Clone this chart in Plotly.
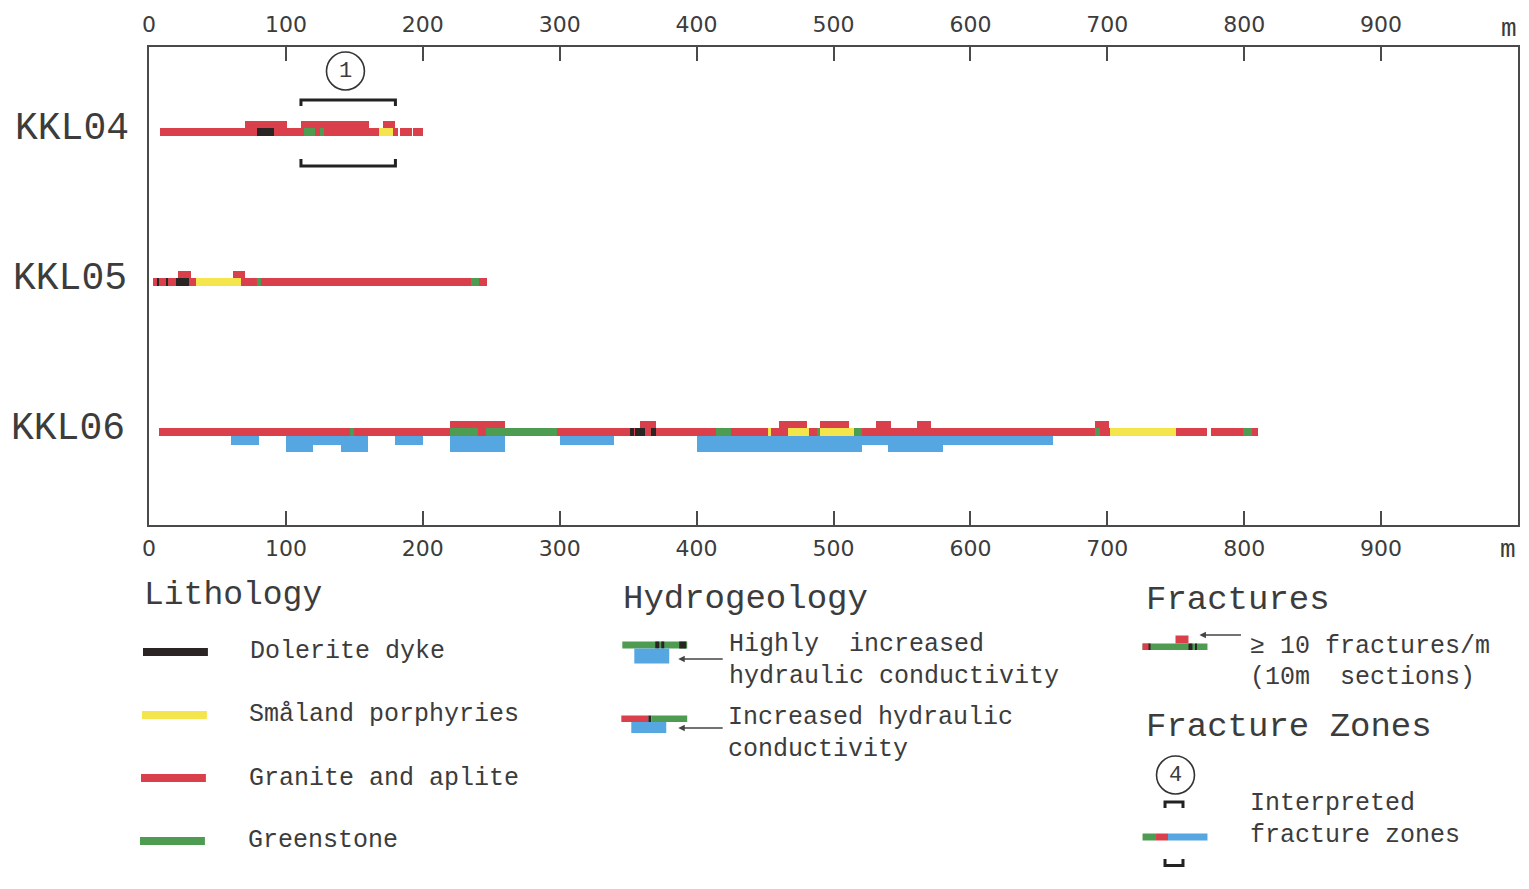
import plotly.graph_objects as go

# ---------------- data (metres along borehole) ----------------
boreholes = ["KKL04", "KKL05", "KKL06"]
depth_ticks = [0, 100, 200, 300, 400, 500, 600, 700, 800, 900]

core_KKL04 = [(8, 182), (183, 192), (193, 200)]
core_KKL05 = [(3, 247)]
core_KKL06 = [(7.5, 772.5), (775.5, 810)]

dolerite_KKL04 = [(79, 91)]
dolerite_KKL05 = [(6, 7), (13, 14), (20, 29)]
dolerite_KKL06 = [(351, 354), (355, 362), (367, 370)]

smaland_KKL04 = [(168, 178)]
smaland_KKL05 = [(34, 67)]
smaland_KKL06 = [(452, 454), (467, 482), (490, 515), (702, 750)]

greenstone_KKL04 = [(113, 121), (125, 128)]
greenstone_KKL05 = [(79, 82), (235, 241)]
greenstone_KKL06 = [(146.5, 150), (220, 240), (246, 298), (414, 425),
                    (488, 490), (515, 521), (691, 695), (799, 806)]

fractures_KKL04 = [(70, 101), (111, 161), (171, 180)]
fractures_KKL05 = [(21, 31), (61, 70)]
fractures_KKL06 = [(220, 260), (359, 370), (460, 481), (490, 511),
                   (531, 542), (561, 571), (691, 701)]

hydro_high_KKL06 = [(100, 120), (140, 160), (220, 260), (400, 521), (540, 580)]
hydro_incr_KKL06 = [(60, 80), (120, 140), (180, 200), (300, 340), (521, 540), (580, 660)]

fracture_zone_KKL04 = [(111, 180)]
fracture_zone_labels = ["1"]

# ---------------- styling ----------------
RED = "#d9404b"
YELLOW = "#f4e54c"
GREEN = "#4e9c52"
BLUE = "#56a6e2"
BLACK = "#2b2424"
TEXT = "#3c3c3c"
FRAME = "#4a4a4a"
MONO = "Liberation Mono"
SANS = "DejaVu Sans"

O = 8                      # page body margin of the html page
W, H = 1529 - 2 * O, 889 - 2 * O
PLOT_L, PLOT_R, PLOT_T, PLOT_B = 149, 1520, 47, 525   # page pixel frame
ML, MT = PLOT_L - O, PLOT_T - O
MR = W - (PLOT_R - O)
MB = H - (PLOT_B - O)
PW, PH = PLOT_R - PLOT_L, PLOT_B - PLOT_T
ROW_PX = 150.0
PX_PER_M = PW / 1000.0

def px(x):
    return (x - PLOT_L) / PW

def py(y):
    return (PLOT_B - y) / PH

def u(p):  # pixel offset -> y units
    return p / ROW_PX

row_of = {b: i for i, b in enumerate(boreholes)}
ROW0_PX = 132  # page y of first borehole

fig = go.Figure()

def add_bars(series, color, top_px, bot_px):
    ys, bases, lens = [], [], []
    for b, segs in series:
        for s, e in segs:
            ys.append(row_of[b]); bases.append(s); lens.append(e - s)
    fig.add_trace(go.Bar(orientation="h", y=ys, x=lens, base=bases,
                         offset=u(top_px), width=u(bot_px - top_px),
                         marker=dict(color=color, line=dict(width=0)),
                         hoverinfo="skip", showlegend=False))

add_bars([("KKL04", core_KKL04), ("KKL05", core_KKL05), ("KKL06", core_KKL06)], RED, -4, 4)
add_bars([("KKL04", greenstone_KKL04), ("KKL05", greenstone_KKL05), ("KKL06", greenstone_KKL06)], GREEN, -4, 4)
add_bars([("KKL04", smaland_KKL04), ("KKL05", smaland_KKL05), ("KKL06", smaland_KKL06)], YELLOW, -4, 4)
add_bars([("KKL04", dolerite_KKL04), ("KKL05", dolerite_KKL05), ("KKL06", dolerite_KKL06)], BLACK, -4, 4)
add_bars([("KKL04", fractures_KKL04), ("KKL05", fractures_KKL05), ("KKL06", fractures_KKL06)], RED, -11, -4)
add_bars([("KKL06", hydro_incr_KKL06)], BLUE, 4, 13)
add_bars([("KKL06", hydro_high_KKL06)], BLUE, 4, 19.5)

shapes = []
annotations = []

# fracture zone brackets + circled numbers
r0 = row_of["KKL04"]
for (s, e), lab in zip(fracture_zone_KKL04, fracture_zone_labels):
    fig.add_trace(go.Scatter(x=[s, s, e, e], y=[r0 - u(26), r0 - u(32), r0 - u(32), r0 - u(26)],
                             mode="lines", line=dict(color="#222", width=3),
                             hoverinfo="skip", showlegend=False))
    fig.add_trace(go.Scatter(x=[s, s, e, e], y=[r0 + u(27), r0 + u(34), r0 + u(34), r0 + u(27)],
                             mode="lines", line=dict(color="#222", width=3),
                             hoverinfo="skip", showlegend=False))
    mid = (s + e) / 2 - 2
    cy = r0 - u(61)
    rx, ry = 19 / PX_PER_M, u(19)
    shapes.append(dict(type="circle", xref="x", yref="y", x0=mid - rx, x1=mid + rx,
                       y0=cy - ry, y1=cy + ry, line=dict(color="#333", width=1.6)))
    annotations.append(dict(x=mid, y=cy, xref="x", yref="y", text=lab, showarrow=False,
                            xanchor="center", yanchor="middle",
                            font=dict(family=MONO, size=22, color=TEXT)))

# invisible trace to activate the top axis
fig.add_trace(go.Scatter(x=[0], y=[0], xaxis="x2", mode="markers",
                         marker=dict(opacity=0), hoverinfo="skip", showlegend=False))

# row labels
for b, xr in zip(boreholes, [131, 129, 127]):
    annotations.append(dict(x=px(xr), y=row_of[b] - u(4), xref="paper", yref="y",
                            text=b, showarrow=False, xanchor="right", yanchor="middle",
                            font=dict(family=MONO, size=38, color=TEXT)))

# ---------------- pixel-layout helpers ----------------
def rect(x0, x1, y0, y1, color):
    shapes.append(dict(type="rect", xref="paper", yref="paper", x0=px(x0), x1=px(x1),
                       y0=py(y1), y1=py(y0), fillcolor=color, line=dict(width=0)))

def text(t, x, y, size=25, anchor="left"):
    annotations.append(dict(x=px(x), y=py(y), xref="paper", yref="paper", text=t,
                            showarrow=False, xanchor=anchor, yanchor="middle",
                            font=dict(family=MONO, size=size, color=TEXT)))

def arrow(xtip, xtail, y):
    annotations.append(dict(x=px(xtip), y=py(y), xref="paper", yref="paper", text="",
                            showarrow=True, ax=xtail - xtip, ay=0, arrowhead=2,
                            arrowsize=1, arrowwidth=1.3, arrowcolor="#444"))

def path(pts, width=3):
    d = "M " + " L ".join(f"{px(x):.5f},{py(y):.5f}" for x, y in pts)
    shapes.append(dict(type="path", xref="paper", yref="paper", path=d,
                       line=dict(color="#222", width=width)))

# axis unit labels
text("m", 1511, 29, 26, "center")
text("m", 1510, 550, 26, "center")

# Lithology
text("Lithology", 142, 595, 33)
rect(143, 208, 648, 656, BLACK); text("Dolerite dyke", 248, 651)
rect(142, 207, 711, 719, YELLOW); text("Småland porphyries", 247, 714)
rect(141, 206, 774, 782, RED); text("Granite and aplite", 247, 778)
rect(140, 205, 837, 845, GREEN); text("Greenstone", 246, 840)

# Hydrogeology
text("Hydrogeology", 622, 599, 34)
rect(623, 688, 641.5, 648.5, GREEN)
rect(656, 660, 641.5, 648.5, BLACK); rect(662, 665, 641.5, 648.5, BLACK); rect(680, 687, 641.5, 648.5, BLACK)
rect(635, 670, 648.5, 663.5, BLUE)
arrow(679, 725, 659)
text("Highly  increased", 728, 644)
text("hydraulic conductivity", 728, 676)
rect(622, 649, 715.5, 722, RED); rect(649, 652, 715.5, 722, BLACK); rect(652, 688, 715.5, 722, GREEN)
rect(632, 667, 722, 733, BLUE)
arrow(679, 725, 728)
text("Increased hydraulic", 727, 717)
text("conductivity", 727, 749)

# Fractures
text("Fractures", 1145, 600, 34)
rect(1144, 1209, 643.5, 650, GREEN); rect(1144, 1151, 643.5, 650, RED)
rect(1150, 1152, 643.5, 650, BLACK); rect(1190, 1194, 643.5, 650, BLACK); rect(1196.5, 1198.5, 643.5, 650, BLACK)
rect(1177, 1190, 635.5, 643.5, RED)
arrow(1201, 1244, 635)
text("\u2265 10 fractures/m", 1250, 646)
text("(10m  sections)", 1250, 677)

# Fracture zones
text("Fracture Zones", 1145, 727, 34)
shapes.append(dict(type="circle", xref="paper", yref="paper", x0=px(1158), x1=px(1196),
                   y0=py(794), y1=py(756), line=dict(color="#333", width=1.6)))
text("4", 1177, 775, 22, "center")
path([(1166.5, 808), (1166.5, 802), (1184.5, 802), (1184.5, 808)])
rect(1144, 1157.5, 833.5, 840.5, GREEN); rect(1157.5, 1169.5, 833.5, 840.5, RED); rect(1169.5, 1209, 833.5, 840.5, BLUE)
path([(1166.5, 859), (1166.5, 865.5), (1184.5, 865.5), (1184.5, 859)])
text("Interpreted", 1250, 803)
text("fracture zones", 1250, 835)

axis_common = dict(range=[0, 1000], tickvals=depth_ticks, ticks="inside", ticklen=14,
                   tickwidth=1.5, tickcolor=FRAME, showgrid=False, zeroline=False,
                   tickfont=dict(family=SANS, size=22, color=TEXT))

fig.update_layout(
    width=W, height=H, autosize=False,
    margin=dict(l=ML, r=MR, t=MT, b=MB, pad=0),
    paper_bgcolor="white", plot_bgcolor="white",
    barmode="overlay", bargap=0,
    xaxis=dict(**axis_common, showline=True, mirror=True, linecolor=FRAME, linewidth=2,
               ticklabelstandoff=3),
    xaxis2=dict(**axis_common, overlaying="x", matches="x", side="top", showline=False,
                ticklabelstandoff=10),
    yaxis=dict(range=[2 + (PLOT_B - (ROW0_PX + 2 * ROW_PX)) / ROW_PX, -(ROW0_PX - PLOT_T) / ROW_PX],
               showline=True, mirror=True, linecolor=FRAME, linewidth=2, showticklabels=False,
               ticks="", showgrid=False, zeroline=False),
    shapes=shapes, annotations=annotations, showlegend=False,
)

fig.write_html("out.html")
